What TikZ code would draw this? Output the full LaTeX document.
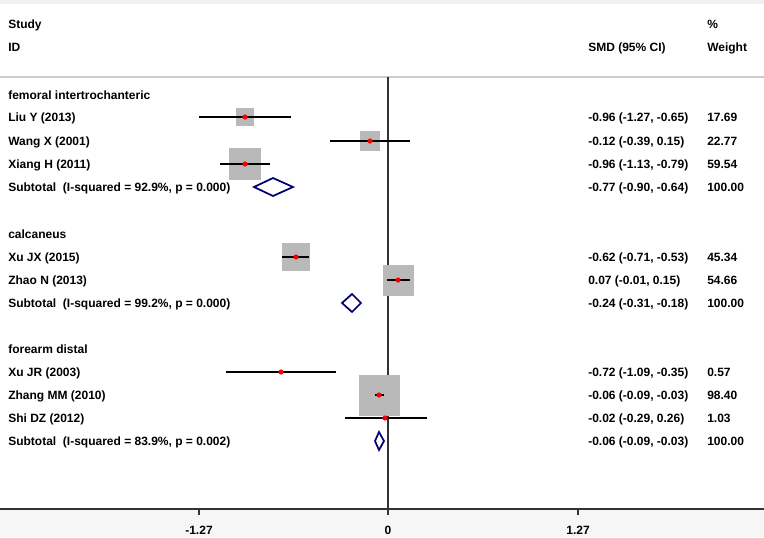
\documentclass[tikz,border=0pt]{standalone}
\usepackage{fontspec}
\setmainfont{Liberation Sans}
\begin{document}
\begin{tikzpicture}[x=0.75pt,y=-0.75pt,
  lab/.style={anchor=base west,inner sep=0pt,yshift=-3.2pt,font=\bfseries\fontsize{9}{10}\selectfont},
  ci/.style={line width=1.4pt,black},
  wbox/.style={fill=gray!55,draw=none},
  dot/.style={fill=red,draw=none},
  diam/.style={draw=blue!45!black,line width=1.3pt,fill=white}]
\useasboundingbox (0,0) rectangle (764,537);
\fill[white] (0,0) rectangle (764,537);
\fill[cyan!4!gray!8] (0,509) rectangle (764,537);
\fill[gray!12] (0,0) rectangle (764,4);
\draw[gray!40,line width=1pt] (0,77) -- (764,77);
% headers
\node[lab] (hs) at (8,24) {Study};
\node[lab] (hid) at (8,47) {ID};
\node[lab] (hp) at (707,24) {\%};
\node[lab] (hsmd) at (588,47) {SMD (95\% CI)};
\node[lab] (hw) at (707,47) {Weight};
% null line and axis
\draw[black!80,line width=0.8pt] (388,77) -- (388,509);
\draw[black!80,line width=0.8pt] (0,509) -- (764,509);
\foreach \x/\t in {199/-1.27,388/0,578/1.27}{
  \draw[black!80,line width=0.8pt] (\x,509) -- (\x,515);
  \node[lab,anchor=base] at (\x,530) {\t};}
% rows: y, name, ci lo, ci hi, point, box side, smd, weight
\foreach \y/\n/\lo/\hi/\p/\s/\e/\w in {
 117/Liu Y (2013)/199/291/245/17.5/{-0.96 (-1.27, -0.65)}/17.69,
 141/Wang X (2001)/330/410/370/19.8/{-0.12 (-0.39, 0.15)}/22.77,
 164/Xiang H (2011)/220/270/245/32/{-0.96 (-1.13, -0.79)}/59.54,
 257/Xu JX (2015)/282/309/296/28/{-0.62 (-0.71, -0.53)}/45.34,
 280/Zhao N (2013)/387/410/398/31/{0.07 (-0.01, 0.15)}/54.66,
 372/Xu JR (2003)/226/336/281/3/{-0.72 (-1.09, -0.35)}/0.57,
 395/Zhang MM (2010)/375/384/379/41/{-0.06 (-0.09, -0.03)}/98.40,
 418/Shi DZ (2012)/345/427/385/4.2/{-0.02 (-0.29, 0.26)}/1.03}{
  \node[lab] at (8,\y) {\n};
  \fill[wbox] (\p-\s/2,\y-\s/2) rectangle (\p+\s/2,\y+\s/2);
  \draw[ci] (\lo,\y) -- (\hi,\y);
  \fill[dot] (\p,\y) circle (2.6);
  \node[lab] at (588,\y) {\e};
  \node[lab] at (707,\y) {\w};}
% groups
\node[lab] (g1) at (8,95) {femoral intertrochanteric};
\node[lab] (g2) at (8,234) {calcaneus};
\node[lab] (g3) at (8,349) {forearm distal};
\foreach \y/\a/\m/\b/\q/\e in {
 187/254/273/293/{92.9\%, p = 0.000}/{-0.77 (-0.90, -0.64)},
 303/342/352/361/{99.2\%, p = 0.000}/{-0.24 (-0.31, -0.18)},
 441/375/379/384/{83.9\%, p = 0.002}/{-0.06 (-0.09, -0.03)}}{
  \node[lab] at (8,\y) {Subtotal\ \ (I-squared = \q)};
  \draw[diam] (\a,\y) -- (\m,\y-9) -- (\b,\y) -- (\m,\y+9) -- cycle;
  \node[lab] at (588,\y) {\e};
  \node[lab] at (707,\y) {100.00};}
\end{tikzpicture}
\end{document}
